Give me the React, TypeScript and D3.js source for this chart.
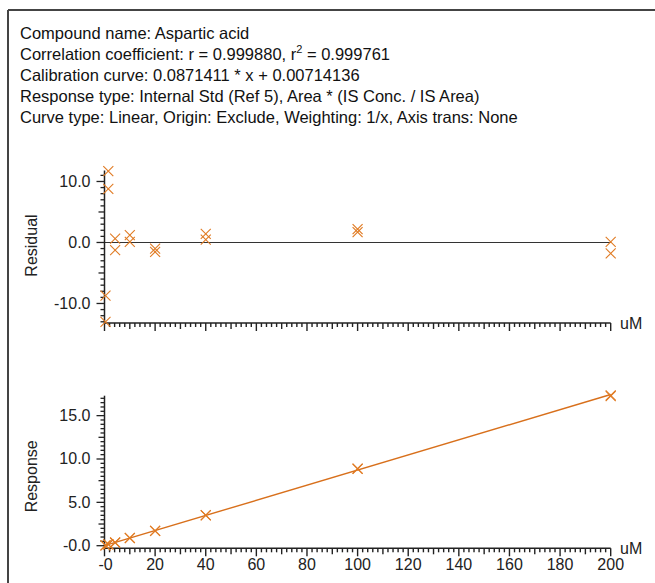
import React from "react";
import * as d3 from "d3";

const headerLines = [
  "Compound name: Aspartic acid",
  "Correlation coefficient: r = 0.999880, r|2| = 0.999761",
  "Calibration curve: 0.0871411 * x + 0.00714136",
  "Response type: Internal Std (Ref 5), Area * (IS Conc. / IS Area)",
  "Curve type: Linear, Origin: Exclude, Weighting: 1/x, Axis trans: None",
];

const slope = 0.0871411;
const intercept = 0.00714136;

const residualX = [0.4, 0.4, 1.5, 1.5, 4.2, 4.2, 10, 10, 20, 20, 40, 40, 100, 100, 200, 200];
const residualY = [-8.7, -13.0, 11.7, 8.8, 0.65, -1.25, 1.2, 0.1, -1.0, -1.55, 1.4, 0.45, 2.2, 1.7, 0.1, -1.8];

const responseX = [0.4, 0.4, 1.5, 1.5, 4.2, 4.2, 10, 10, 20, 20, 40, 40, 100, 100, 200, 200];
const responseY = [0.03, 0.04, 0.15, 0.14, 0.37, 0.36, 0.89, 0.88, 1.72, 1.71, 3.53, 3.50, 8.90, 8.85, 17.35, 17.25];

const xTickValues = [0, 20, 40, 60, 80, 100, 120, 140, 160, 180, 200];
const xTickLabels = ["-0", "20", "40", "60", "80", "100", "120", "140", "160", "180", "200"];
const resTickValues = [10, 0, -10];
const resTickLabels = ["10.0", "0.0", "-10.0"];
const respTickValues = [0, 5, 10, 15];
const respTickLabels = ["-0.0", "5.0", "10.0", "15.0"];

const MARK = "#E07A22";
const LINE = "#D8701C";
const AXIS = "#222";
const FONT = "Liberation Sans, Arial, sans-serif";

function Cross({ cx, cy }: { cx: number; cy: number }) {
  const s = 5;
  return (
    <g stroke={MARK} strokeWidth={1.1}>
      <line x1={cx - s} y1={cy - s} x2={cx + s} y2={cy + s} />
      <line x1={cx - s} y1={cy + s} x2={cx + s} y2={cy - s} />
    </g>
  );
}

function XAxis({ x, y0 }: { x: d3.ScaleLinear<number, number>; y0: number }) {
  const ticks = d3.range(0, 201, 2);
  return (
    <g>
      <line x1={x(0)} x2={x(200)} y1={y0} y2={y0} stroke={AXIS} strokeWidth={1.5} />
      {ticks.map((t) => {
        const len = t % 20 === 0 ? 8 : t % 10 === 0 ? 6 : 4;
        return <line key={t} x1={x(t)} x2={x(t)} y1={y0} y2={y0 + len} stroke={AXIS} strokeWidth={1.4} />;
      })}
      <text x={620} y={y0 + 6} fontSize={16} fill="#222" fontFamily={FONT}>uM</text>
    </g>
  );
}

function YAxis({ y, x0, minorStep, midStep, majorStep, labels, values }: any) {
  const [d0, d1] = y.domain();
  const start = Math.ceil(d0 / minorStep) * minorStep;
  const ticks = d3.range(start, d1 + 1e-9, minorStep);
  const isMult = (v: number, s: number) => Math.abs(v / s - Math.round(v / s)) < 1e-6;
  return (
    <g>
      <line x1={x0} x2={x0} y1={y(d0)} y2={y(d1)} stroke={AXIS} strokeWidth={1.5} />
      {ticks.map((t: number, i: number) => {
        const len = isMult(t, majorStep) ? 8 : isMult(t, midStep) ? 6 : 4;
        return <line key={i} x1={x0 - len} x2={x0} y1={y(t)} y2={y(t)} stroke={AXIS} strokeWidth={1.3} />;
      })}
      {values.map((v: number, i: number) => (
        <text key={v} x={x0 - 14} y={y(v) + 5.5} textAnchor="end" fontSize={16} fill="#222" fontFamily={FONT}>
          {labels[i]}
        </text>
      ))}
    </g>
  );
}

export default function App() {
  const x = d3.scaleLinear().domain([0, 200]).range([104.5, 610.7]);
  const yRes = d3.scaleLinear().domain([-13.2, 11.8]).range([323, 170.5]);
  const yResp = d3.scaleLinear().domain([-0.3, 17.3]).range([548.3, 395.7]);
  const fitLine = d3.line<number>().x((d) => x(d)).y((d) => yResp(slope * d + intercept));

  return (
    <svg width={655} height={583} style={{ position: "absolute", left: 0, top: 0, background: "#fff" }}>
      <rect x={0} y={0} width={655} height={583} fill="#fff" />
      <line x1={8} x2={655} y1={10} y2={10} stroke="#444" strokeWidth={2} />
      <line x1={8} x2={8} y1={10} y2={583} stroke="#444" strokeWidth={2} />
      {headerLines.map((l, i) => {
        const parts = l.split("|");
        return (
          <text key={i} x={20} y={39 + i * 21} fontSize={16.5} fill="#111" fontFamily={FONT}>
            {parts.length === 1 ? (
              l
            ) : (
              <>
                {parts[0]}
                <tspan fontSize={11} dy={-7}>{parts[1]}</tspan>
                <tspan dy={7}>{parts[2]}</tspan>
              </>
            )}
          </text>
        );
      })}

      {/* Residual panel */}
      <line x1={x(0)} x2={x(200)} y1={yRes(0)} y2={yRes(0)} stroke="#333" strokeWidth={1.2} />
      <YAxis y={yRes} x0={104.5} minorStep={1} midStep={5} majorStep={10} labels={resTickLabels} values={resTickValues} />
      <XAxis x={x} y0={323} />
      <text transform={`translate(37,${yRes(-0.5)}) rotate(-90)`} textAnchor="middle" fontSize={16} fill="#222" fontFamily={FONT}>
        Residual
      </text>
      {residualX.map((v, i) => (
        <Cross key={i} cx={x(v)} cy={yRes(residualY[i])} />
      ))}

      {/* Response panel */}
      <path d={fitLine([0, 200]) || ""} stroke={LINE} strokeWidth={1.4} fill="none" />
      <YAxis y={yResp} x0={104.5} minorStep={0.5} midStep={2.5} majorStep={5} labels={respTickLabels} values={respTickValues} />
      <XAxis x={x} y0={548.3} />
      {xTickValues.map((v, i) => (
        <text key={v} x={x(v) + (i === 0 ? 1 : 0)} y={570} textAnchor="middle" fontSize={16} fill="#222" fontFamily={FONT}>
          {xTickLabels[i]}
        </text>
      ))}
      <text transform={`translate(37,${yResp(8)}) rotate(-90)`} textAnchor="middle" fontSize={16} fill="#222" fontFamily={FONT}>
        Response
      </text>
      {responseX.map((v, i) => (
        <Cross key={i} cx={x(v)} cy={yResp(responseY[i])} />
      ))}
    </svg>
  );
}
